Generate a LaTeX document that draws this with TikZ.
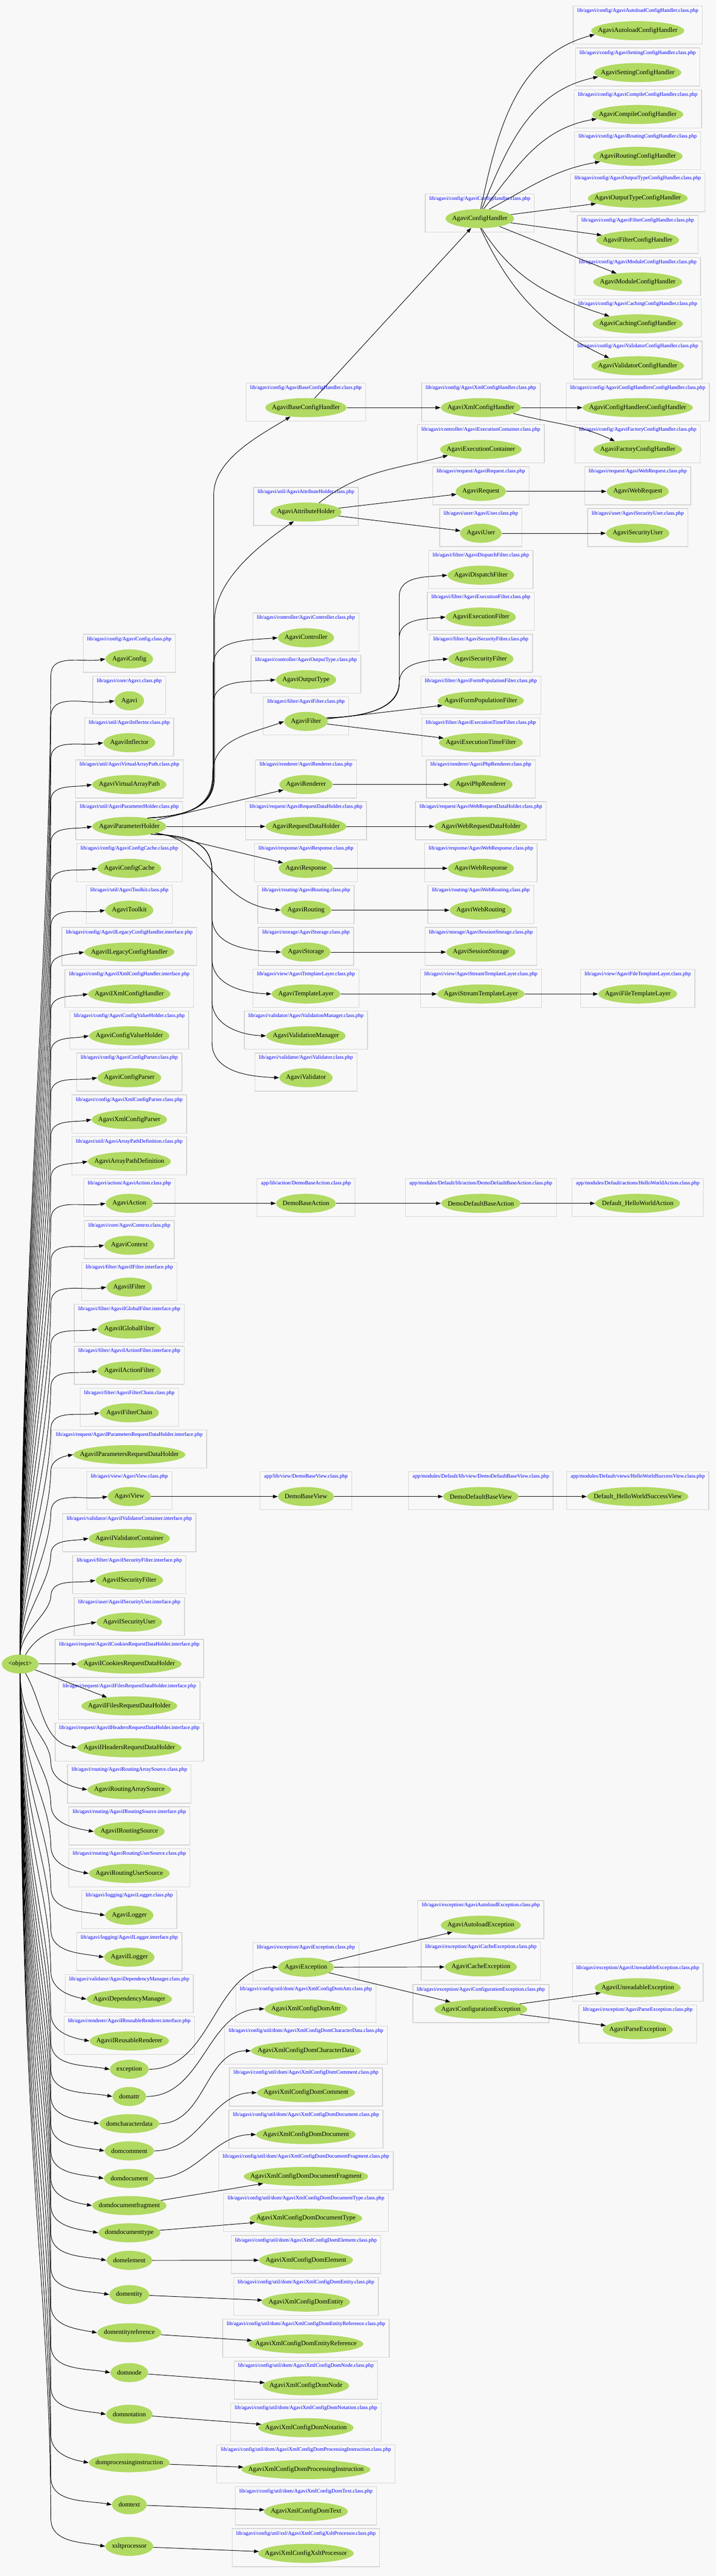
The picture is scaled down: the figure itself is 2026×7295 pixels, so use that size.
\documentclass[tikz,border=0pt]{standalone}
\usepackage{fontspec}
\setmainfont{Liberation Serif}
\usetikzlibrary{shapes.geometric,fit,arrows.meta}
\pgfdeclarelayer{bg}
\pgfsetlayers{bg,main}
\definecolor{nodegreen}{HTML}{B0DA62}
\definecolor{clusgray}{HTML}{D4D4D4}
\definecolor{bgc}{HTML}{F8F8F8}
\definecolor{lblblue}{HTML}{0000FF}
\newsavebox\mkbx
\newlength\mkln
\newcommand\mkctext[1]{\sbox\mkbx{#1}\setlength\mkln{0.7071\wd\mkbx}\addtolength\mkln{13.43pt}\makebox[\mkln][c]{\usebox\mkbx}}
\tikzset{
  cls/.style={ellipse, fill=nodegreen, inner sep=0pt, minimum width=0pt, minimum height=27pt, font=\fontsize{9.25pt}{11pt}\selectfont},
  plbl/.style={inner sep=0pt, text=lblblue, font=\fontsize{7.55pt}{9pt}\selectfont, text height=5.2pt, text depth=1.6pt},
  clus/.style={draw=clusgray, line width=1pt, inner xsep=5.5pt, inner ysep=0pt},
  arr/.style={draw=black, line width=0.7pt, -{Triangle[length=7pt,width=5pt]}},
}
\newcommand\mkcls[5]{%
  \node[cls] (#1) at (#2,#3) {\mkctext{#4}};
  \node[plbl] (#1-l) at (#2,#3-56) {#5};
  \coordinate (#1-t) at (#2,#3-70);
  \coordinate (#1-b) at (#2,#3+38);
  \begin{pgfonlayer}{bg}\node[clus, fit=(#1-l)(#1-t)(#1-b)] {};\end{pgfonlayer}
}
\newcommand\mkplain[4]{\node[cls] (#1) at (#2,#3) {\mkctext{#4}};}
\newcommand\rootup[2]{\draw[arr] (obj.north) .. controls (60,{#2+46+0.6*(4685-#2-46)}) and (140,{#2+46+0.3*(4685-#2-46)}) .. (144,{#2+46}) to[out=90,in=190] (#1.west);}
\newcommand\rootdn[2]{\draw[arr] (obj.south) .. controls (60,{4739+0.6*(#2-78-4739)}) and (140,{4739+0.7*(#2-78-4739)}) .. (144,{#2-78}) to[out=-90,in=170] (#1.west);}
\newcommand\phup[3]{\draw[arr] (ph.25) .. controls (560,2310) and (603,2270) .. (603,2200) -- (603,{#2+#3}) to[out=90,in=185] (#1.west);}
\newcommand\phdn[2]{\draw[arr] (ph.-20) .. controls (560,2365) and (600,2400) .. (600,2470) -- (600,{#2-100}) to[out=-90,in=178] (#1.west);}
\newcommand\fup[2]{\draw[arr] (filter.10) .. controls (1050,2030) and (1130,2000) .. (1130,1930) -- (1130,{#2+60}) to[out=90,in=185] (#1.west);}
\begin{document}
\begin{tikzpicture}[x=0.5pt,y=-0.5pt]
\useasboundingbox (0,0) rectangle (2026,7295);
\begin{pgfonlayer}{bg}\fill[bgc] (0,0) rectangle (2026,7295);\end{pgfonlayer}
% ---------- column 4
\mkcls{ach}{1805}{87}{AgaviAutoloadConfigHandler}{lib/agavi/config/AgaviAutoloadConfigHandler.class.php}
\mkcls{sch}{1805}{205.6}{AgaviSettingConfigHandler}{lib/agavi/config/AgaviSettingConfigHandler.class.php}
\mkcls{cch}{1805}{324.2}{AgaviCompileConfigHandler}{lib/agavi/config/AgaviCompileConfigHandler.class.php}
\mkcls{rch}{1805}{442.8}{AgaviRoutingConfigHandler}{lib/agavi/config/AgaviRoutingConfigHandler.class.php}
\mkcls{otch}{1805}{561.4}{AgaviOutputTypeConfigHandler}{lib/agavi/config/AgaviOutputTypeConfigHandler.class.php}
\mkcls{fch}{1805}{680}{AgaviFilterConfigHandler}{lib/agavi/config/AgaviFilterConfigHandler.class.php}
\mkcls{mch}{1805}{798.6}{AgaviModuleConfigHandler}{lib/agavi/config/AgaviModuleConfigHandler.class.php}
\mkcls{cach}{1805}{917.2}{AgaviCachingConfigHandler}{lib/agavi/config/AgaviCachingConfigHandler.class.php}
\mkcls{vch}{1805}{1035.8}{AgaviValidatorConfigHandler}{lib/agavi/config/AgaviValidatorConfigHandler.class.php}
\mkcls{chch}{1805}{1154.4}{AgaviConfigHandlersConfigHandler}{lib/agavi/config/AgaviConfigHandlersConfigHandler.class.php}
\mkcls{fach}{1805}{1273}{AgaviFactoryConfigHandler}{lib/agavi/config/AgaviFactoryConfigHandler.class.php}
\mkcls{webreq}{1805}{1391.6}{AgaviWebRequest}{lib/agavi/request/AgaviWebRequest.class.php}
\mkcls{secuser}{1805}{1510.2}{AgaviSecurityUser}{lib/agavi/user/AgaviSecurityUser.class.php}
\mkcls{filetl}{1805}{2814.8}{AgaviFileTemplateLayer}{lib/agavi/view/AgaviFileTemplateLayer.class.php}
\mkcls{hwact}{1805}{3407.8}{Default\_HelloWorldAction}{app/modules/Default/actions/HelloWorldAction.class.php}
\mkcls{hwview}{1805}{4238}{Default\_HelloWorldSuccessView}{app/modules/Default/views/HelloWorldSuccessView.class.php}
\mkcls{unreadexc}{1805}{5629}{AgaviUnreadableException}{lib/agavi/exception/AgaviUnreadableException.class.php}
\mkcls{parseexc}{1805}{5748}{AgaviParseException}{lib/agavi/exception/AgaviParseException.class.php}
% ---------- column 3
\mkcls{ch}{1358}{619}{AgaviConfigHandler}{lib/agavi/config/AgaviConfigHandler.class.php}
\mkcls{xmlch}{1361}{1154.4}{AgaviXmlConfigHandler}{lib/agavi/config/AgaviXmlConfigHandler.class.php}
\mkcls{execcont}{1361}{1273}{AgaviExecutionContainer}{lib/agavi/controller/AgaviExecutionContainer.class.php}
\mkcls{request}{1361}{1391.6}{AgaviRequest}{lib/agavi/request/AgaviRequest.class.php}
\mkcls{user}{1361}{1510.2}{AgaviUser}{lib/agavi/user/AgaviUser.class.php}
\mkcls{dispf}{1361}{1628.8}{AgaviDispatchFilter}{lib/agavi/filter/AgaviDispatchFilter.class.php}
\mkcls{execf}{1361}{1747.4}{AgaviExecutionFilter}{lib/agavi/filter/AgaviExecutionFilter.class.php}
\mkcls{secf}{1361}{1866}{AgaviSecurityFilter}{lib/agavi/filter/AgaviSecurityFilter.class.php}
\mkcls{formf}{1361}{1984.6}{AgaviFormPopulationFilter}{lib/agavi/filter/AgaviFormPopulationFilter.class.php}
\mkcls{timef}{1361}{2103.2}{AgaviExecutionTimeFilter}{lib/agavi/filter/AgaviExecutionTimeFilter.class.php}
\mkcls{phpr}{1361}{2221.8}{AgaviPhpRenderer}{lib/agavi/renderer/AgaviPhpRenderer.class.php}
\mkcls{webrdh}{1361}{2340.4}{AgaviWebRequestDataHolder}{lib/agavi/request/AgaviWebRequestDataHolder.class.php}
\mkcls{webresp}{1361}{2459}{AgaviWebResponse}{lib/agavi/response/AgaviWebResponse.class.php}
\mkcls{webrout}{1361}{2577.6}{AgaviWebRouting}{lib/agavi/routing/AgaviWebRouting.class.php}
\mkcls{sessst}{1361}{2696.2}{AgaviSessionStorage}{lib/agavi/storage/AgaviSessionStorage.class.php}
\mkcls{streamtl}{1361}{2814.8}{AgaviStreamTemplateLayer}{lib/agavi/view/AgaviStreamTemplateLayer.class.php}
\mkcls{ddact}{1361}{3407.8}{DemoDefaultBaseAction}{app/modules/Default/lib/action/DemoDefaultBaseAction.class.php}
\mkcls{ddview}{1361}{4238}{DemoDefaultBaseView}{app/modules/Default/lib/view/DemoDefaultBaseView.class.php}
\mkcls{autoexc}{1361}{5452}{AgaviAutoloadException}{lib/agavi/exception/AgaviAutoloadException.class.php}
\mkcls{cacheexc}{1361}{5570}{AgaviCacheException}{lib/agavi/exception/AgaviCacheException.class.php}
\mkcls{confexc}{1361}{5690}{AgaviConfigurationException}{lib/agavi/exception/AgaviConfigurationException.class.php}
% ---------- column 2
\mkcls{bch}{866}{1154.4}{AgaviBaseConfigHandler}{lib/agavi/config/AgaviBaseConfigHandler.class.php}
\mkcls{attrh}{866}{1450}{AgaviAttributeHolder}{lib/agavi/util/AgaviAttributeHolder.class.php}
\mkcls{ctrl}{866}{1806}{AgaviController}{lib/agavi/controller/AgaviController.class.php}
\mkcls{otype}{866}{1925}{AgaviOutputType}{lib/agavi/controller/AgaviOutputType.class.php}
\mkcls{filter}{866}{2043}{AgaviFilter}{lib/agavi/filter/AgaviFilter.class.php}
\mkcls{rend}{866}{2221.8}{AgaviRenderer}{lib/agavi/renderer/AgaviRenderer.class.php}
\mkcls{rdh}{866}{2340.4}{AgaviRequestDataHolder}{lib/agavi/request/AgaviRequestDataHolder.class.php}
\mkcls{resp}{866}{2459}{AgaviResponse}{lib/agavi/response/AgaviResponse.class.php}
\mkcls{rout}{866}{2577.6}{AgaviRouting}{lib/agavi/routing/AgaviRouting.class.php}
\mkcls{stor}{866}{2696.2}{AgaviStorage}{lib/agavi/storage/AgaviStorage.class.php}
\mkcls{tl}{866}{2814.8}{AgaviTemplateLayer}{lib/agavi/view/AgaviTemplateLayer.class.php}
\mkcls{valmgr}{866}{2933.4}{AgaviValidationManager}{lib/agavi/validator/AgaviValidationManager.class.php}
\mkcls{valid}{866}{3052}{AgaviValidator}{lib/agavi/validator/AgaviValidator.class.php}
\mkcls{dbact}{866}{3407.8}{DemoBaseAction}{app/lib/action/DemoBaseAction.class.php}
\mkcls{dbview}{866}{4238}{DemoBaseView}{app/lib/view/DemoBaseView.class.php}
\mkcls{agexc}{866}{5571}{AgaviException}{lib/agavi/exception/AgaviException.class.php}
\mkcls{dattr}{866}{5689}{AgaviXmlConfigDomAttr}{lib/agavi/config/util/dom/AgaviXmlConfigDomAttr.class.php}
\mkcls{dchar}{866}{5807.6}{AgaviXmlConfigDomCharacterData}{lib/agavi/config/util/dom/AgaviXmlConfigDomCharacterData.class.php}
\mkcls{dcomm}{866}{5926.2}{AgaviXmlConfigDomComment}{lib/agavi/config/util/dom/AgaviXmlConfigDomComment.class.php}
\mkcls{ddoc}{866}{6044.8}{AgaviXmlConfigDomDocument}{lib/agavi/config/util/dom/AgaviXmlConfigDomDocument.class.php}
\mkcls{dfrag}{866}{6163.4}{AgaviXmlConfigDomDocumentFragment}{lib/agavi/config/util/dom/AgaviXmlConfigDomDocumentFragment.class.php}
\mkcls{dtype}{866}{6282}{AgaviXmlConfigDomDocumentType}{lib/agavi/config/util/dom/AgaviXmlConfigDomDocumentType.class.php}
\mkcls{delem}{866}{6400.6}{AgaviXmlConfigDomElement}{lib/agavi/config/util/dom/AgaviXmlConfigDomElement.class.php}
\mkcls{dent}{866}{6519.2}{AgaviXmlConfigDomEntity}{lib/agavi/config/util/dom/AgaviXmlConfigDomEntity.class.php}
\mkcls{dentref}{866}{6637.8}{AgaviXmlConfigDomEntityReference}{lib/agavi/config/util/dom/AgaviXmlConfigDomEntityReference.class.php}
\mkcls{dnode}{866}{6756.4}{AgaviXmlConfigDomNode}{lib/agavi/config/util/dom/AgaviXmlConfigDomNode.class.php}
\mkcls{dnot}{866}{6875}{AgaviXmlConfigDomNotation}{lib/agavi/config/util/dom/AgaviXmlConfigDomNotation.class.php}
\mkcls{dpi}{866}{6993.6}{AgaviXmlConfigDomProcessingInstruction}{lib/agavi/config/util/dom/AgaviXmlConfigDomProcessingInstruction.class.php}
\mkcls{dtext}{866}{7112.2}{AgaviXmlConfigDomText}{lib/agavi/config/util/dom/AgaviXmlConfigDomText.class.php}
\mkcls{dxslt}{866}{7230.8}{AgaviXmlConfigXsltProcessor}{lib/agavi/config/util/xsl/AgaviXmlConfigXsltProcessor.class.php}
% ---------- column 1
\mkcls{cfg}{366}{1866}{AgaviConfig}{lib/agavi/config/AgaviConfig.class.php}
\mkcls{agavi}{366}{1984.6}{Agavi}{lib/agavi/core/Agavi.class.php}
\mkcls{infl}{366}{2103.2}{AgaviInflector}{lib/agavi/util/AgaviInflector.class.php}
\mkcls{vap}{366}{2221.8}{AgaviVirtualArrayPath}{lib/agavi/util/AgaviVirtualArrayPath.class.php}
\mkcls{ph}{366}{2340.4}{AgaviParameterHolder}{lib/agavi/util/AgaviParameterHolder.class.php}
\mkcls{ccache}{366}{2459}{AgaviConfigCache}{lib/agavi/config/AgaviConfigCache.class.php}
\mkcls{tk}{366}{2577.6}{AgaviToolkit}{lib/agavi/util/AgaviToolkit.class.php}
\mkcls{ilegacy}{366}{2696.2}{AgaviILegacyConfigHandler}{lib/agavi/config/AgaviILegacyConfigHandler.interface.php}
\mkcls{ixmlch}{366}{2814.8}{AgaviIXmlConfigHandler}{lib/agavi/config/AgaviIXmlConfigHandler.interface.php}
\mkcls{cvh}{366}{2933.4}{AgaviConfigValueHolder}{lib/agavi/config/AgaviConfigValueHolder.class.php}
\mkcls{cparser}{366}{3052}{AgaviConfigParser}{lib/agavi/config/AgaviConfigParser.class.php}
\mkcls{xcparser}{366}{3170.6}{AgaviXmlConfigParser}{lib/agavi/config/AgaviXmlConfigParser.class.php}
\mkcls{apd}{366}{3289.2}{AgaviArrayPathDefinition}{lib/agavi/util/AgaviArrayPathDefinition.class.php}
\mkcls{action}{366}{3407.8}{AgaviAction}{lib/agavi/action/AgaviAction.class.php}
\mkcls{context}{366}{3526.4}{AgaviContext}{lib/agavi/core/AgaviContext.class.php}
\mkcls{ifilter}{366}{3645}{AgaviIFilter}{lib/agavi/filter/AgaviIFilter.interface.php}
\mkcls{iglobal}{366}{3763.6}{AgaviIGlobalFilter}{lib/agavi/filter/AgaviIGlobalFilter.interface.php}
\mkcls{iaction}{366}{3882.2}{AgaviIActionFilter}{lib/agavi/filter/AgaviIActionFilter.interface.php}
\mkcls{fchain}{366}{4000.8}{AgaviFilterChain}{lib/agavi/filter/AgaviFilterChain.class.php}
\mkcls{iparams}{366}{4119.4}{AgaviIParametersRequestDataHolder}{lib/agavi/request/AgaviIParametersRequestDataHolder.interface.php}
\mkcls{view}{366}{4238}{AgaviView}{lib/agavi/view/AgaviView.class.php}
\mkcls{ivalc}{366}{4356.6}{AgaviIValidatorContainer}{lib/agavi/validator/AgaviIValidatorContainer.interface.php}
\mkcls{isecf}{366}{4475.2}{AgaviISecurityFilter}{lib/agavi/filter/AgaviISecurityFilter.interface.php}
\mkcls{isecu}{366}{4593.8}{AgaviISecurityUser}{lib/agavi/user/AgaviISecurityUser.interface.php}
\mkcls{icook}{366}{4712.4}{AgaviICookiesRequestDataHolder}{lib/agavi/request/AgaviICookiesRequestDataHolder.interface.php}
\mkcls{ifiles}{366}{4831}{AgaviIFilesRequestDataHolder}{lib/agavi/request/AgaviIFilesRequestDataHolder.interface.php}
\mkcls{iheads}{366}{4949.6}{AgaviIHeadersRequestDataHolder}{lib/agavi/request/AgaviIHeadersRequestDataHolder.interface.php}
\mkcls{ras}{366}{5068.2}{AgaviRoutingArraySource}{lib/agavi/routing/AgaviRoutingArraySource.class.php}
\mkcls{irs}{366}{5186.8}{AgaviIRoutingSource}{lib/agavi/routing/AgaviIRoutingSource.interface.php}
\mkcls{rus}{366}{5305.4}{AgaviRoutingUserSource}{lib/agavi/routing/AgaviRoutingUserSource.class.php}
\mkcls{logger}{366}{5424}{AgaviLogger}{lib/agavi/logging/AgaviLogger.class.php}
\mkcls{ilogger}{366}{5542.6}{AgaviILogger}{lib/agavi/logging/AgaviILogger.interface.php}
\mkcls{depmgr}{366}{5661.2}{AgaviDependencyManager}{lib/agavi/validator/AgaviDependencyManager.class.php}
\mkcls{ireus}{366}{5779.8}{AgaviIReusableRenderer}{lib/agavi/renderer/AgaviIReusableRenderer.interface.php}
\mkplain{lexc}{366}{5860}{exception}
\mkplain{ldattr}{366}{5937}{domattr}
\mkplain{ldchar}{366}{6014}{domcharacterdata}
\mkplain{ldcomm}{366}{6091}{domcomment}
\mkplain{lddoc}{366}{6169}{domdocument}
\mkplain{ldfrag}{366}{6246}{domdocumentfragment}
\mkplain{ldtype}{366}{6323}{domdocumenttype}
\mkplain{ldelem}{366}{6401}{domelement}
\mkplain{ldent}{366}{6498}{domentity}
\mkplain{ldentref}{366}{6606}{domentityreference}
\mkplain{ldnode}{366}{6719}{domnode}
\mkplain{ldnot}{366}{6837}{domnotation}
\mkplain{ldpi}{366}{6974}{domprocessinginstruction}
\mkplain{ldtext}{366}{7093}{domtext}
\mkplain{lxslt}{366}{7211}{xsltprocessor}
% ---------- root
\mkplain{obj}{57}{4712.4}{<object>}
% ---------- edges from root
\rootup{cfg}{1866}
\rootup{agavi}{1984.6}
\rootup{infl}{2103.2}
\rootup{vap}{2221.8}
\rootup{ph}{2340.4}
\rootup{ccache}{2459}
\rootup{tk}{2577.6}
\rootup{ilegacy}{2696.2}
\rootup{ixmlch}{2814.8}
\rootup{cvh}{2933.4}
\rootup{cparser}{3052}
\rootup{xcparser}{3170.6}
\rootup{apd}{3289.2}
\rootup{action}{3407.8}
\rootup{context}{3526.4}
\rootup{ifilter}{3645}
\rootup{iglobal}{3763.6}
\rootup{iaction}{3882.2}
\rootup{fchain}{4000.8}
\rootup{iparams}{4119.4}
\rootup{view}{4238}
\rootup{ivalc}{4356.6}
\rootup{isecf}{4475.2}
\draw[arr] (obj.60) to[out=60,in=190] (isecu.west);
\draw[arr] (obj) -- (icook);
\draw[arr] (obj) -- (ifiles);
\draw[arr] (obj.-60) to[out=-60,in=170] (iheads.west);
\rootdn{ras}{5068.2}
\rootdn{irs}{5186.8}
\rootdn{rus}{5305.4}
\rootdn{logger}{5424}
\rootdn{ilogger}{5542.6}
\rootdn{depmgr}{5661.2}
\rootdn{ireus}{5779.8}
\rootdn{lexc}{5860}
\rootdn{ldattr}{5937}
\rootdn{ldchar}{6014}
\rootdn{ldcomm}{6091}
\rootdn{lddoc}{6169}
\rootdn{ldfrag}{6246}
\rootdn{ldtype}{6323}
\rootdn{ldelem}{6401}
\rootdn{ldent}{6498}
\rootdn{ldentref}{6606}
\rootdn{ldnode}{6719}
\rootdn{ldnot}{6837}
\rootdn{ldpi}{6974}
\rootdn{ldtext}{7093}
\rootdn{lxslt}{7211}
% ---------- edges from AgaviParameterHolder
\draw[arr] (ph.25) .. controls (560,2310) and (605,2270) .. (605,2200) -- (605,1400) .. controls (605,1300) and (740,1230) .. (bch.210);
\draw[arr] (ph.25) .. controls (560,2310) and (607,2270) .. (607,2200) -- (607,1760) .. controls (607,1640) and (740,1540) .. (attrh.217);
\phup{ctrl}{1806}{80}
\phup{otype}{1925}{70}
\draw[arr] (ph.25) .. controls (560,2310) and (602,2270) .. (602,2190) to[out=90,in=200] (filter.west);
\draw[arr] (ph) -- (rend);
\draw[arr] (ph) -- (rdh);
\draw[arr] (ph) -- (resp);
\draw[arr] (ph.-15) .. controls (590,2370) and (605,2560) .. (rout.west);
\phdn{stor}{2696.2}
\phdn{tl}{2814.8}
\phdn{valmgr}{2933.4}
\phdn{valid}{3052}
% ---------- config handlers
\draw[arr] (bch) -- (xmlch);
\draw[arr] (bch) -- (ch);
\draw[arr] (xmlch) -- (chch);
\draw[arr] (xmlch.-10) to[out=-15,in=155] (fach.160);
\draw[arr] (ch.85) to[out=78,in=195] (ach.185);
\draw[arr] (ch.78) to[out=68,in=192] (sch.186);
\draw[arr] (ch.68) to[out=52,in=190] (cch.186);
\draw[arr] (ch.45) to[out=28,in=190] (rch.188);
\draw[arr] (ch) -- (otch);
\draw[arr] (ch) -- (fch);
\draw[arr] (ch) -- (mch);
\draw[arr] (ch.-80) to[out=-58,in=162] (cach.165);
\draw[arr] (ch.-86) to[out=-65,in=155] (vch.165);
% ---------- attribute holder
\draw[arr] (attrh.35) to[out=38,in=195] (execcont.190);
\draw[arr] (attrh) -- (request);
\draw[arr] (attrh) -- (user);
\draw[arr] (request) -- (webreq);
\draw[arr] (user) -- (secuser);
% ---------- filters
\fup{dispf}{1628.8}
\fup{execf}{1747.4}
\draw[arr] (filter.10) .. controls (1050,2030) and (1130,2000) .. (1130,1935) to[out=90,in=185] (secf.west);
\draw[arr] (filter) -- (formf);
\draw[arr] (filter) -- (timef);
% ---------- chains
\draw[arr] (rend) -- (phpr);
\draw[arr] (rdh) -- (webrdh);
\draw[arr] (resp) -- (webresp);
\draw[arr] (rout) -- (webrout);
\draw[arr] (stor) -- (sessst);
\draw[arr] (tl) -- (streamtl);
\draw[arr] (streamtl) -- (filetl);
\draw[arr] (action) -- (dbact);
\draw[arr] (dbact) -- (ddact);
\draw[arr] (ddact) -- (hwact);
\draw[arr] (view) -- (dbview);
\draw[arr] (dbview) -- (ddview);
\draw[arr] (ddview) -- (hwview);
% ---------- exceptions
\draw[arr] (lexc.east) to[out=0,in=180] (agexc.west);
\draw[arr] (agexc) -- (autoexc);
\draw[arr] (agexc) -- (cacheexc);
\draw[arr] (agexc) -- (confexc);
\draw[arr] (confexc) -- (unreadexc);
\draw[arr] (confexc) -- (parseexc);
% ---------- dom
\draw[arr] (ldattr.east) to[out=0,in=180] (dattr.west);
\draw[arr] (ldchar.east) to[out=0,in=180] (dchar.west);
\draw[arr] (ldcomm.east) to[out=0,in=180] (dcomm.west);
\draw[arr] (lddoc.east) to[out=0,in=180] (ddoc.west);
\draw[arr] (ldfrag) -- (dfrag);
\draw[arr] (ldtype) -- (dtype);
\draw[arr] (ldelem) -- (delem);
\draw[arr] (ldent) -- (dent);
\draw[arr] (ldentref) -- (dentref);
\draw[arr] (ldnode) -- (dnode);
\draw[arr] (ldnot) -- (dnot);
\draw[arr] (ldpi) -- (dpi);
\draw[arr] (ldtext) -- (dtext);
\draw[arr] (lxslt) -- (dxslt);
\end{tikzpicture}
\end{document}
